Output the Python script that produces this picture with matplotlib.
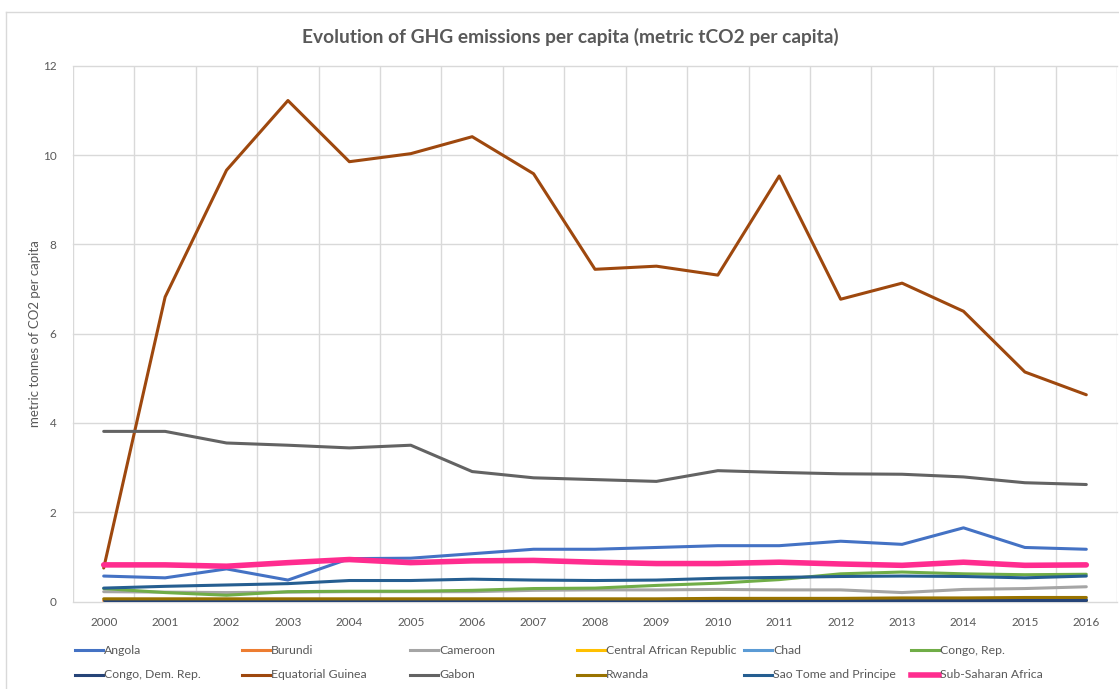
import matplotlib
matplotlib.use("Agg")
import matplotlib.pyplot as plt
from matplotlib.lines import Line2D
import numpy as np

plt.rcParams['font.family'] = ['Lato', 'DejaVu Sans']

years = [str(y) for y in range(2000, 2017)]

angola = [0.57, 0.53, 0.73, 0.48, 0.96, 0.97, 1.07, 1.17, 1.17, 1.21, 1.25, 1.25, 1.35, 1.28, 1.65, 1.21, 1.17]
burundi = [0.02, 0.02, 0.02, 0.02, 0.02, 0.02, 0.02, 0.02, 0.02, 0.02, 0.03, 0.03, 0.03, 0.04, 0.04, 0.04, 0.04]
cameroon = [0.22, 0.21, 0.20, 0.21, 0.22, 0.22, 0.22, 0.25, 0.26, 0.26, 0.27, 0.26, 0.26, 0.20, 0.27, 0.29, 0.33]
car = [0.04, 0.04, 0.04, 0.04, 0.04, 0.04, 0.04, 0.04, 0.04, 0.04, 0.04, 0.04, 0.04, 0.04, 0.04, 0.04, 0.04]
chad = [0.05, 0.05, 0.05, 0.05, 0.05, 0.05, 0.05, 0.05, 0.05, 0.05, 0.05, 0.05, 0.05, 0.05, 0.05, 0.05, 0.05]
congo_rep = [0.29, 0.20, 0.14, 0.22, 0.23, 0.23, 0.25, 0.29, 0.30, 0.36, 0.41, 0.49, 0.62, 0.66, 0.62, 0.60, 0.61]
congo_dem = [0.03, 0.03, 0.03, 0.03, 0.03, 0.03, 0.03, 0.03, 0.03, 0.03, 0.03, 0.03, 0.03, 0.03, 0.03, 0.03, 0.03]
eq_guinea = [0.75, 6.82, 9.66, 11.22, 9.85, 10.03, 10.41, 9.58, 7.44, 7.51, 7.31, 9.53, 6.77, 7.13, 6.50, 5.14, 4.63]
gabon = [3.81, 3.81, 3.55, 3.50, 3.44, 3.50, 2.91, 2.77, 2.73, 2.69, 2.93, 2.89, 2.86, 2.85, 2.79, 2.66, 2.62]
rwanda = [0.06, 0.06, 0.06, 0.06, 0.06, 0.06, 0.06, 0.06, 0.06, 0.06, 0.07, 0.07, 0.07, 0.08, 0.08, 0.09, 0.09]
sao_tome = [0.30, 0.34, 0.37, 0.40, 0.47, 0.47, 0.50, 0.48, 0.47, 0.48, 0.52, 0.54, 0.56, 0.57, 0.56, 0.53, 0.57]
ssa = [0.82, 0.82, 0.79, 0.87, 0.94, 0.87, 0.91, 0.92, 0.88, 0.85, 0.85, 0.88, 0.84, 0.81, 0.88, 0.81, 0.82]

series = [
    ("Angola", angola, "#4472C4", 2.2),
    ("Burundi", burundi, "#ED7D31", 2.2),
    ("Cameroon", cameroon, "#A5A5A5", 2.2),
    ("Central African Republic", car, "#FFC000", 2.2),
    ("Chad", chad, "#5B9BD5", 2.2),
    ("Congo, Rep.", congo_rep, "#70AD47", 2.2),
    ("Congo, Dem. Rep.", congo_dem, "#264478", 2.2),
    ("Equatorial Guinea", eq_guinea, "#9E480E", 2.2),
    ("Gabon", gabon, "#636363", 2.2),
    ("Rwanda", rwanda, "#997300", 2.2),
    ("Sao Tome and Principe", sao_tome, "#255E91", 2.2),
    ("Sub-Saharan Africa", ssa, "#FF2C8F", 4.0),
]

W, H = 1119, 689
fig = plt.figure(figsize=(W / 100, H / 100), dpi=100)
fig.patch.set_facecolor("white")

# outer chart frame (left and top edges)
fig.add_artist(Line2D([6 / W, 6 / W], [0, 1 - 12 / H], transform=fig.transFigure,
                      color="#D9D9D9", lw=1))
fig.add_artist(Line2D([6 / W, 1], [1 - 12 / H, 1 - 12 / H], transform=fig.transFigure,
                      color="#D9D9D9", lw=1))

left, right, top, bottom = 73, 1117, 65.7, 601.5
ax = fig.add_axes([left / W, 1 - bottom / H, (right - left) / W, (bottom - top) / H])

x = np.arange(len(years))
for name, vals, color, lw in series:
    ax.plot(x, vals, color=color, lw=lw, solid_joinstyle="round", solid_capstyle="round",
            zorder=3)

ax.set_xlim(-0.5, len(years) - 0.5)
ax.set_ylim(0, 12)
ax.set_yticks(np.arange(0, 13, 2))
ax.set_xticks(x)
ax.set_xticklabels(years)
ax.set_xticks(np.arange(-0.5, len(years), 1), minor=True)
ax.grid(True, which="major", axis="y", color="#D9D9D9", lw=1, zorder=0)
ax.grid(True, which="minor", axis="x", color="#D9D9D9", lw=1, zorder=0)
ax.grid(False, which="major", axis="x")
for s in ax.spines.values():
    s.set_visible(False)
ax.tick_params(axis="both", which="both", length=0, colors="#595959", labelsize=8.5)
ax.tick_params(axis="x", pad=11)
ax.tick_params(axis="y", pad=12)
for gl in ax.get_ygridlines():
    gl.set_clip_on(False)

ax.set_ylabel("metric tonnes of CO2 per capita", color="#595959", fontsize=9.5)
ax.yaxis.set_label_coords((41 - left) / (right - left), 0.5)

fig.text(570 / W, 1 - 37 / H, "Evolution of GHG emissions per capita (metric tCO2 per capita)",
         ha="center", va="center", fontsize=13.8, fontweight="bold", color="#595959")

# legend: two rows of six entries
col_x = [73, 240, 408, 575, 742, 909]
row_y = [650, 675]
for i, (name, vals, color, lw) in enumerate(series):
    r, c = divmod(i, 6)
    x0 = col_x[c]
    y0 = 1 - row_y[r] / H
    fig.add_artist(Line2D([(x0 + 2) / W, (x0 + 30) / W], [y0, y0], transform=fig.transFigure,
                          color=color, lw=lw))
    fig.text((x0 + 31) / W, y0, name, ha="left", va="center", fontsize=8.8, color="#595959")

fig.savefig("out.png", dpi=100, facecolor="white")
